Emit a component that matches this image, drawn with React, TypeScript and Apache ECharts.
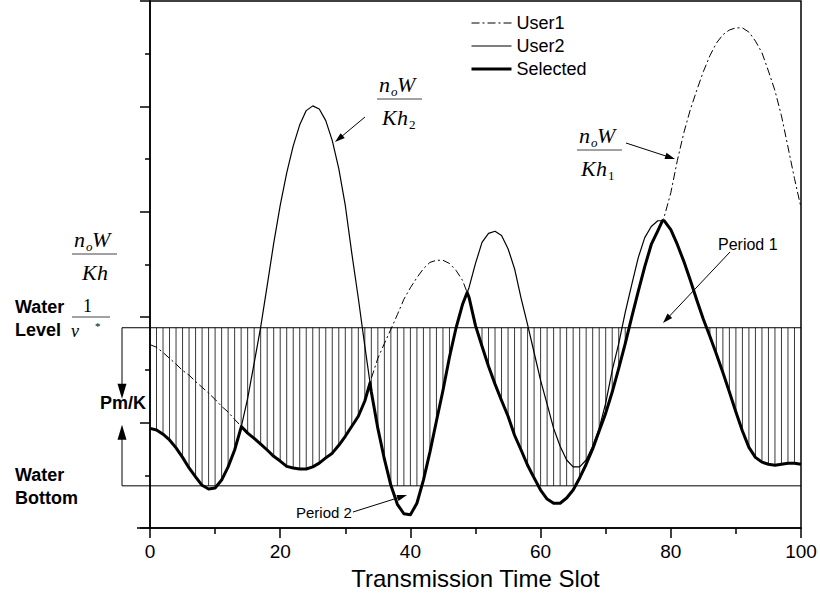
import React, { useEffect, useRef } from "react";
import * as echarts from "echarts";

// Transmission time slots (x)
const SLOTS = [
  0, 1, 2, 3, 4, 5, 6, 7, 8, 9, 10, 11, 12, 13, 14, 15, 16, 17, 18, 19, 20,
  21, 22, 23, 24, 25, 26, 27, 28, 29, 30, 31, 32, 33, 34, 35, 36, 37, 38, 39, 40,
  41, 42, 43, 44, 45, 46, 47, 48, 49, 50, 51, 52, 53, 54, 55, 56, 57, 58, 59, 60,
  61, 62, 63, 64, 65, 66, 67, 68, 69, 70, 71, 72, 73, 74, 75, 76, 77, 78, 79, 80,
  81, 82, 83, 84, 85, 86, 87, 88, 89, 90, 91, 92, 93, 94, 95, 96, 97, 98, 99, 100,
];

// n0W/(K h1) for user 1 (arbitrary units, axis 0..100)
const USER1 = [
  34.8, 34.3, 33.3, 32.2, 31.1, 29.9, 29.0, 27.8, 26.7, 25.6, 24.4,
  23.1, 22.0, 20.6, 19.3, 18.0, 17.0, 15.9, 14.8, 13.6, 12.7,
  11.7, 11.4, 11.2, 11.2, 11.6, 12.3, 13.3, 14.2, 15.7, 17.4,
  19.3, 21.2, 24.1, 28.4, 32.2, 35.0, 37.7, 40.5, 43.4, 45.6,
  47.5, 49.2, 50.4, 50.8, 50.8, 50.2, 48.9, 47.0, 43.8, 38.4,
  34.5, 30.7, 27.3, 24.2, 21.2, 17.6, 14.8, 11.9, 9.5, 7.2,
  5.5, 4.7, 4.7, 5.7, 7.2, 9.5, 12.1, 15.0, 18.4, 21.8,
  25.8, 30.3, 35.0, 40.0, 44.9, 49.6, 53.8, 56.4, 59.1, 63.6,
  69.7, 75.0, 79.4, 83.1, 86.6, 89.6, 92.0, 93.6, 94.5, 94.9,
  94.9, 94.1, 92.4, 90.2, 86.7, 83.0, 78.2, 72.3, 66.3, 60.8,
];

// n0W/(K h2) for user 2
const USER2 = [
  18.9, 18.6, 17.8, 16.7, 15.2, 13.4, 11.4, 9.7, 8.1, 7.4, 7.6,
  9.1, 11.6, 14.8, 19.1, 24.6, 31.3, 38.1, 46.0, 54.0, 61.2,
  67.4, 72.5, 76.5, 79.2, 80.1, 79.5, 77.3, 73.5, 68.2, 61.2,
  52.1, 43.6, 34.5, 25.8, 18.9, 13.1, 8.1, 4.5, 2.7, 2.5,
  4.7, 9.1, 14.4, 20.3, 26.1, 32.4, 37.9, 42.4, 45.6, 50.2,
  54.2, 55.9, 56.3, 55.5, 53.0, 49.2, 43.6, 38.6, 33.3, 28.0,
  23.5, 18.9, 15.5, 12.9, 11.6, 11.6, 12.9, 15.5, 18.9, 23.7,
  29.9, 35.0, 40.9, 46.2, 51.3, 55.1, 57.2, 58.3, 58.3, 56.6,
  53.8, 50.6, 47.0, 43.2, 39.6, 36.4, 33.0, 29.5, 25.8, 22.0,
  18.4, 15.3, 13.4, 12.5, 12.1, 11.9, 12.1, 12.3, 12.3, 12.1,
];

const WATER_LEVEL = 38; // 1/v*
const WATER_BOTTOM = 8; // water level - Pm/K

const X_MIN = 0;
const X_MAX = 100;
const X_INTERVAL = 20;
const Y_MIN = 0;
const Y_MAX = 100;
const Y_INTERVAL = 20;

// layout
const GRID_LEFT = 150;
const GRID_RIGHT = 19;
const GRID_TOP = 1;
const GRID_BOTTOM = 72;
const W = 820;
const H = 600;
const PLOT_H = H - GRID_TOP - GRID_BOTTOM;
const yPx = (v: number) => GRID_TOP + (1 - (v - Y_MIN) / (Y_MAX - Y_MIN)) * PLOT_H;

const SANS = '"Liberation Sans", Arial, Helvetica, sans-serif';
const SERIF = '"Liberation Serif", "Times New Roman", Times, serif';

const W_USER1 = 1;
const W_USER2 = 1.2;
const W_SELECTED = 3;
const DASH_DOT = [8, 3, 2, 3];

// Selected user = the one with the lower n0W/(K h); crossing points inserted
function buildSelected(): number[][] {
  const pts: number[][] = [];
  for (let i = 0; i < SLOTS.length; i++) {
    const a = USER1[i];
    const b = USER2[i];
    pts.push([SLOTS[i], Math.min(a, b)]);
    if (i < SLOTS.length - 1) {
      const a2 = USER1[i + 1];
      const b2 = USER2[i + 1];
      const d1 = a - b;
      const d2 = a2 - b2;
      if (d1 * d2 < 0) {
        const t = d1 / (d1 - d2);
        pts.push([SLOTS[i] + t * (SLOTS[i + 1] - SLOTS[i]), a + t * (a2 - a)]);
      }
    }
  }
  return pts;
}

function buildHatch(): number[][] {
  const out: number[][] = [];
  for (let i = 1; i < SLOTS.length - 1; i++) {
    const sel = Math.min(USER1[i], USER2[i]);
    if (sel < WATER_LEVEL) out.push([SLOTS[i], Math.max(sel, WATER_BOTTOM), WATER_LEVEL]);
  }
  return out;
}

function arrow(x1: number, y1: number, x2: number, y2: number, len = 10, half = 3.2, w = 1) {
  const dx = x2 - x1;
  const dy = y2 - y1;
  const L = Math.hypot(dx, dy);
  const ux = dx / L;
  const uy = dy / L;
  const bx = x2 - ux * len;
  const by = y2 - uy * len;
  const px = -uy;
  const py = ux;
  return [
    { type: "line", silent: true, shape: { x1, y1, x2: bx + ux * 2, y2: by + uy * 2 }, style: { stroke: "#000", lineWidth: w } },
    {
      type: "polygon",
      silent: true,
      shape: { points: [[x2, y2], [bx + px * half, by + py * half], [bx - px * half, by - py * half]] },
      style: { fill: "#000" },
    },
  ];
}

function t(x: number, baseline: number, text: string, fs: number, family: string, extra: any = {}) {
  return {
    type: "text",
    silent: true,
    x,
    y: baseline - 0.34 * fs,
    style: { text, fill: "#000", fontSize: fs, fontFamily: family, align: "left", verticalAlign: "middle", ...extra },
  };
}

function tc(x: number, cy: number, text: string, fs: number, family: string, extra: any = {}) {
  return {
    type: "text",
    silent: true,
    x,
    y: cy,
    style: { text, fill: "#000", fontSize: fs, fontFamily: family, align: "left", verticalAlign: "middle", ...extra },
  };
}

function hline(x1: number, x2: number, y: number, stroke = "#000", w = 1) {
  return { type: "line", silent: true, shape: { x1, y1: y, x2, y2: y }, style: { stroke, lineWidth: w } };
}

// fraction n_oW / K h_sub with fraction bar from (lx, ly) of length len
function fraction(lx: number, ly: number, len: number, sub: string, numDx: number, denDx: number) {
  const it = { fontStyle: "italic" };
  const els: any[] = [
    t(lx + numDx, ly - 7, "n", 22, SERIF, it),
    t(lx + numDx + 12, ly - 3, "o", 13, SERIF, it),
    t(lx + numDx + 18, ly - 7, "W", 22, SERIF, it),
    hline(lx, lx + len, ly, "#444", 1),
    t(lx + denDx, ly + 26, "K", 22, SERIF, it),
    t(lx + denDx + 15, ly + 26, "h", 22, SERIF, it),
  ];
  if (sub) els.push(t(lx + denDx + 27, ly + 30, sub, 13, SERIF));
  return els;
}

function buildGraphic() {
  const yL = yPx(WATER_LEVEL);
  const yB = yPx(WATER_BOTTOM);
  const bold = { fontWeight: "bold" };
  const els: any[] = [
    // x-axis line extension to the left
    hline(137, GRID_LEFT, H - GRID_BOTTOM, "#000", 1.5),
    // water lines extended to the bracket
    hline(122, GRID_LEFT, yL),
    hline(122, GRID_LEFT, yB),
    // Pm/K bracket arrows
    ...arrow(122, yL, 122, yL + 71, 15, 4.5),
    ...arrow(122, yB, 122, yB - 61, 15, 4.5),
    tc(100, 403, "Pm/K", 18, SANS, bold),
    tc(15, 307, "Water", 18, SANS, bold),
    tc(15, 330, "Level", 18, SANS, bold),
    tc(15, 475, "Water", 18, SANS, bold),
    tc(15, 498, "Bottom", 18, SANS, bold),
    // 1/v*
    t(83, 312, "1", 18, SERIF),
    hline(72, 110, 317, "#444", 1),
    t(71, 337, "\u03bd", 18, SERIF, { fontStyle: "italic" }),
    t(95, 330, "*", 11, SERIF),
    // fractions
    ...fraction(377, 99, 45, "2", 2, 5),
    ...fraction(577, 150, 45, "1", 2, 4),
    ...fraction(72, 254, 45, "", 2, 10),
    // annotation arrows
    ...arrow(365, 117, 335, 142),
    ...arrow(626, 143, 675, 159),
    ...arrow(730, 252, 663, 323),
    ...arrow(353, 512, 407, 495),
    tc(718, 244, "Period 1", 16, SANS),
    tc(296, 512, "Period 2", 15, SANS),
  ];
  return els;
}

export default function App() {
  const ref = useRef<HTMLDivElement>(null);
  useEffect(() => {
    if (!ref.current) return;
    const chart = echarts.init(ref.current, null, { renderer: "svg", width: W, height: H });
    const axisColor = "#000";
    const option: any = {
      animation: false,
      backgroundColor: "#fff",
      textStyle: { fontFamily: SANS },
      grid: {
        left: GRID_LEFT,
        right: GRID_RIGHT,
        top: GRID_TOP,
        bottom: GRID_BOTTOM,
        show: true,
        borderColor: axisColor,
        borderWidth: 1.5,
        backgroundColor: "transparent",
      },
      legend: {
        data: [
          { name: "User1", lineStyle: { width: W_USER1, type: DASH_DOT } },
          { name: "User2", lineStyle: { width: W_USER2 } },
          { name: "Selected", lineStyle: { width: W_SELECTED } },
        ],
        orient: "vertical",
        left: 470,
        top: 14,
        padding: 0,
        itemWidth: 40,
        itemHeight: 14,
        itemGap: 5,
        selectedMode: false,
        itemStyle: { color: "transparent", borderWidth: 0, opacity: 0 },
        textStyle: { color: "#000", fontSize: 18, fontFamily: SANS },
      },
      xAxis: {
        type: "value",
        min: X_MIN,
        max: X_MAX,
        interval: X_INTERVAL,
        name: "Transmission Time Slot",
        nameLocation: "middle",
        nameGap: 38,
        nameTextStyle: { color: "#000", fontSize: 24, fontFamily: SANS },
        axisLine: { show: true, onZero: false, lineStyle: { color: axisColor, width: 1.5 } },
        axisTick: { show: true, length: 10, lineStyle: { color: axisColor, width: 1.5 } },
        minorTick: { show: true, splitNumber: 2, length: 6, lineStyle: { color: axisColor, width: 1.5 } },
        splitLine: { show: false },
        axisLabel: { color: "#000", fontSize: 19, fontFamily: SANS, margin: 14 },
      },
      yAxis: {
        type: "value",
        min: Y_MIN,
        max: Y_MAX,
        interval: Y_INTERVAL,
        axisLine: { show: true, onZero: false, lineStyle: { color: axisColor, width: 1.5 } },
        axisTick: { show: true, length: 10, lineStyle: { color: axisColor, width: 1.5 } },
        minorTick: { show: true, splitNumber: 2, length: 5, lineStyle: { color: axisColor, width: 1.5 } },
        splitLine: { show: false },
        axisLabel: { show: false },
      },
      series: [
        {
          name: "Allocated power",
          type: "custom",
          silent: true,
          z: 1,
          data: buildHatch(),
          encode: { x: 0, y: [1, 2] },
          renderItem: (_params: any, api: any) => {
            const p1 = api.coord([api.value(0), api.value(1)]);
            const p2 = api.coord([api.value(0), api.value(2)]);
            return {
              type: "line",
              shape: { x1: p1[0], y1: p1[1], x2: p2[0], y2: p2[1] },
              style: { stroke: "#3a3a3a", lineWidth: 1 },
            };
          },
        },
        {
          name: "Water Level",
          type: "line",
          silent: true,
          z: 2,
          symbol: "none",
          data: [[X_MIN, WATER_LEVEL], [X_MAX, WATER_LEVEL]],
          lineStyle: { color: "#000", width: 1 },
        },
        {
          name: "Water Bottom",
          type: "line",
          silent: true,
          z: 2,
          symbol: "none",
          data: [[X_MIN, WATER_BOTTOM], [X_MAX, WATER_BOTTOM]],
          lineStyle: { color: "#000", width: 1 },
        },
        {
          name: "User1",
          type: "line",
          z: 3,
          symbol: "none",
          showSymbol: false,
          data: SLOTS.map((x, i) => [x, USER1[i]]),
          itemStyle: { color: "#000" },
          lineStyle: { color: "#000", width: W_USER1, type: DASH_DOT },
        },
        {
          name: "User2",
          type: "line",
          z: 3,
          symbol: "none",
          showSymbol: false,
          data: SLOTS.map((x, i) => [x, USER2[i]]),
          itemStyle: { color: "#000" },
          lineStyle: { color: "#000", width: W_USER2 },
        },
        {
          name: "Selected",
          type: "line",
          z: 4,
          symbol: "none",
          showSymbol: false,
          data: buildSelected(),
          itemStyle: { color: "#000" },
          lineStyle: { color: "#000", width: W_SELECTED, join: "round" },
        },
      ],
      graphic: { elements: buildGraphic() },
    };
    chart.setOption(option);
    return () => chart.dispose();
  }, []);
  return (
    <div
      ref={ref}
      style={{ position: "fixed", left: 0, top: 0, width: W, height: H, background: "#fff" }}
    />
  );
}
